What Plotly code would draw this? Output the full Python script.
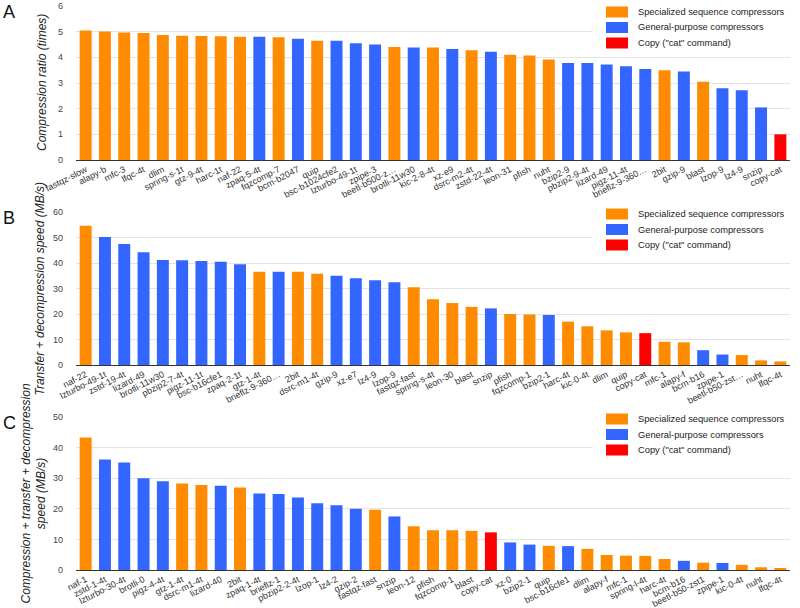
import plotly.graph_objects as go

ORANGE = "#ff8c00"
BLUE = "#3366ff"
RED = "#ff0000"

# S = specialized sequence compressor, G = general-purpose, C = copy ("cat")
labels_a = ["fastqz-slow", "alapy-b", "mfc-3", "lfqc-4t", "dlim", "spring-s-1t", "gtz-9-4t",
            "harc-1t", "naf-22", "zpaq-5-4t", "fqzcomp-7", "bcm-b2047", "quip", "bsc-b1024cfe2",
            "lzturbo-49-1t", "zpipe-3", "beetl-b500-z…", "brotli-11w30", "kic-2-8-4t", "xz-e9",
            "dsrc-m2-4t", "zstd-22-4t", "leon-31", "pfish", "nuht", "bzip2-9", "pbzip2-9-4t",
            "lizard-49", "pigz-11-4t", "brieflz-9-360…", "2bit", "gzip-9", "blast", "lzop-9",
            "lz4-9", "snzip", "copy-cat"]
ratio_a = [5.05, 5.01, 4.97, 4.95, 4.87, 4.84, 4.83, 4.82, 4.80, 4.80, 4.78, 4.72, 4.65, 4.65,
           4.55, 4.50, 4.40, 4.38, 4.38, 4.32, 4.28, 4.22, 4.10, 4.07, 3.92, 3.78, 3.78, 3.72,
           3.65, 3.55, 3.50, 3.45, 3.05, 2.80, 2.72, 2.05, 1.00]
kind_a = ["S", "S", "S", "S", "S", "S", "S", "S", "S", "G", "S", "G", "S", "G", "G", "G", "S",
          "G", "S", "G", "S", "G", "S", "S", "S", "G", "G", "G", "G", "G", "S", "G", "S", "G",
          "G", "G", "C"]

labels_b = ["naf-22", "lzturbo-49-1t", "zstd-19-4t", "lizard-49", "brotli-11w30", "pbzip2-7-4t",
            "pigz-11-1t", "bsc-b16cfe1", "zpaq-2-1t", "gtz-1-4t", "brieflz-9-360…", "2bit",
            "dsrc-m1-4t", "gzip-9", "xz-e7", "lz4-9", "lzop-9", "fastqz-fast", "spring-s-4t",
            "leon-30", "blast", "snzip", "pfish", "fqzcomp-1", "bzip2-1", "harc-4t", "kic-0-4t",
            "dlim", "quip", "copy-cat", "mfc-1", "alapy-f", "bcm-b16", "zpipe-1",
            "beetl-b50-zst…", "nuht", "lfqc-4t"]
speed_b = [54.6, 50.2, 47.5, 44.2, 41.2, 41.1, 40.8, 40.5, 39.5, 36.6, 36.6, 36.6, 35.8, 35.0,
           34.0, 33.2, 32.5, 30.5, 25.8, 24.3, 22.8, 22.2, 20.0, 19.8, 19.6, 17.0, 15.2, 13.6,
           12.8, 12.5, 9.1, 8.9, 5.8, 4.1, 3.9, 1.8, 1.4]
kind_b = ["S", "G", "G", "G", "G", "G", "G", "G", "G", "S", "G", "S", "S", "G", "G", "G", "G",
          "S", "S", "S", "S", "G", "S", "S", "G", "S", "S", "S", "S", "C", "S", "S", "G", "G",
          "S", "S", "S"]

labels_c = ["naf-1", "zstd-1-4t", "lzturbo-30-4t", "brotli-0", "pigz-4-4t", "gtz-1-4t",
            "dsrc-m1-4t", "lizard-40", "2bit", "zpaq-1-4t", "brieflz-1", "pbzip2-2-4t", "lzop-1",
            "lz4-2", "gzip-2", "fastqz-fast", "snzip", "leon-12", "pfish", "fqzcomp-1", "blast",
            "copy-cat", "xz-0", "bzip2-1", "quip", "bsc-b16cfe1", "dlim", "alapy-f", "mfc-1",
            "spring-l-4t", "harc-4t", "bcm-b16", "beetl-b50-zst1", "zpipe-1", "kic-0-4t", "nuht",
            "lfqc-4t"]
speed_c = [43.3, 36.1, 35.1, 30.0, 29.0, 28.3, 27.8, 27.5, 27.0, 25.0, 24.8, 23.7, 21.8, 21.2,
           20.0, 19.7, 17.5, 14.3, 13.0, 13.0, 12.8, 12.3, 9.0, 8.3, 7.9, 7.8, 6.9, 4.9, 4.7,
           4.6, 3.6, 3.0, 2.4, 2.3, 1.7, 0.9, 0.65]
kind_c = ["S", "G", "G", "G", "G", "S", "S", "G", "S", "G", "G", "G", "G", "G", "G", "S", "G",
          "S", "S", "S", "S", "C", "G", "G", "S", "G", "S", "S", "S", "S", "S", "G", "S", "G",
          "S", "S", "S"]

groups = [("S", "Specialized sequence compressors", ORANGE),
          ("G", "General-purpose compressors", BLUE),
          ("C", 'Copy ("cat" command)', RED)]

W, H = 800, 608
L, R = 76, 10
PW = W - L - R
FONT = "Arial, Liberation Sans, sans-serif"


def px(x):
    return (x - L) / PW


def py(y):
    return 1 - y / H


# labels, values, kinds, y max, dtick, plot top px, plot bottom px, letter, title, title x, legend row y
panels = [
    (labels_a, ratio_a, kind_a, 6, 1, 6, 160, "A", "Compression ratio (times)", 42, 12),
    (labels_b, speed_b, kind_b, 60, 10, 212, 365, "B", "Transfer + decompression speed (MB/s)", 40, 214),
    (labels_c, speed_c, kind_c, 50, 10, 417, 570, "C",
     "Compression + transfer + decompression<br>speed (MB/s)", 33, 419),
]

fig = go.Figure()
annotations = []
shapes = []
layout = {}
for i, (labels, vals, kinds, ymax, dtick, top, bot, letter, ytitle, tx, ly) in enumerate(panels):
    n = "" if i == 0 else str(i + 1)
    for key, name, color in groups:
        xs = [l for l, k in zip(labels, kinds) if k == key]
        ys = [v for v, k in zip(vals, kinds) if k == key]
        fig.add_trace(go.Bar(
            x=xs, y=ys, name=name, marker_color=color,
            marker_line=dict(width=0),
            xaxis="x" + n, yaxis="y" + n, showlegend=False,
        ))
    layout["xaxis" + n] = dict(
        domain=[0, 1], anchor="y" + n, type="category",
        categoryorder="array", categoryarray=labels, automargin=False,
        tickangle=-27, tickfont=dict(size=9, color="#333", family=FONT),
        showgrid=False, showline=True, linecolor="#333", linewidth=1, ticks="",
    )
    layout["yaxis" + n] = dict(
        domain=[py(bot), py(top)], anchor="x" + n, automargin=False,
        range=[0, ymax], dtick=dtick, showgrid=True, gridcolor="#e3e3e3",
        zeroline=False, tickfont=dict(size=9, color="#444", family=FONT),
        ticklabelstandoff=12, ticks="",
    )

    # legend box (white background hides the gridlines behind it)
    shapes.append(dict(type="rect", xref="paper", yref="paper", layer="above",
                       x0=px(592), x1=px(W), y0=py(ly + 40), y1=py(max(ly - 10, 0)),
                       fillcolor="white", line=dict(width=0)))
    for j, (key, name, color) in enumerate(groups):
        yc = ly + j * 15.5
        shapes.append(dict(type="rect", xref="paper", yref="paper", layer="above",
                           x0=px(606), x1=px(628), y0=py(yc + 5.5), y1=py(yc - 5.5),
                           fillcolor=color, line=dict(width=0)))
        annotations.append(dict(
            text=name, xref="paper", yref="paper", x=px(636), xanchor="left",
            y=py(yc), yanchor="middle", showarrow=False,
            font=dict(size=9.3, color="#222", family=FONT),
        ))

    annotations.append(dict(
        text=letter, xref="paper", yref="paper", x=px(1), xanchor="left",
        y=py(top - 6), yanchor="top", showarrow=False,
        font=dict(size=18, color="#111", family=FONT),
    ))
    annotations.append(dict(
        text=ytitle, xref="paper", yref="paper", x=px(tx), xanchor="center",
        y=py((top + bot) / 2), yanchor="middle", textangle=-90, showarrow=False,
        font=dict(size=12, color="#222", family=FONT, style="italic"),
    ))

fig.update_layout(
    width=W, height=H,
    margin=dict(l=L, r=R, t=0, b=0),
    plot_bgcolor="white", paper_bgcolor="white",
    barmode="overlay", bargap=0.38,
    showlegend=False,
    annotations=annotations,
    shapes=shapes,
    font=dict(family=FONT),
    **layout,
)

# the page body has a default 8px margin; drop it so the figure fills the window
fig.write_html("out.html", config={"displayModeBar": False},
               post_script="document.body.style.margin = '0';")
